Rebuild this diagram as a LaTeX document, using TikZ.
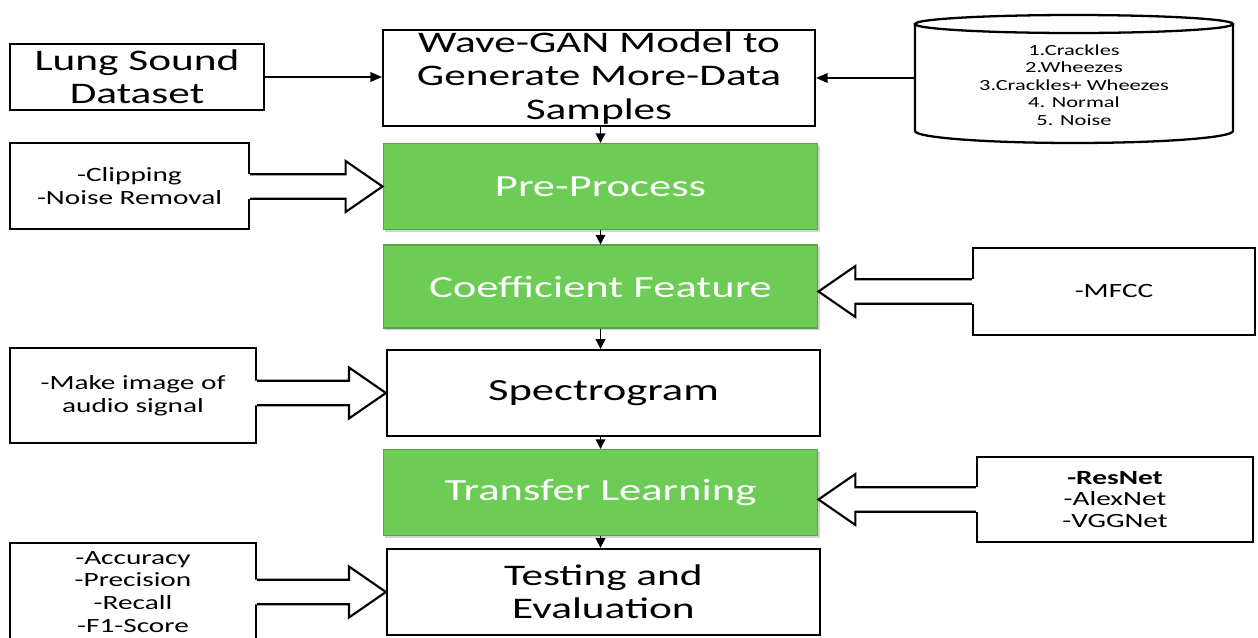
\documentclass[tikz,border=0pt]{standalone}
\usepackage{fontspec}
\setmainfont{Carlito}[FakeStretch=1.45]
\usetikzlibrary{arrows.meta, calc, shadows}
\definecolor{stagegreen}{RGB}{109,204,85}
\definecolor{stageline}{RGB}{88,165,68}

% hollow block arrow from a box edge (#1) to a tip point (#2)
\newcommand{\fatarrow}[2]{%
  \fill[white] let \p1=(#1), \p2=(#2), \n1={ifthenelse(\x2>\x1,1,-1)} in
    (\x1-\n1*1.2pt, \y2+7pt) -- (\x2-\n1*21pt, \y2+7pt) -- (\x2-\n1*21pt, \y2+14.5pt)
    -- (\x2,\y2) -- (\x2-\n1*21pt, \y2-14.5pt) -- (\x2-\n1*21pt, \y2-7pt)
    -- (\x1-\n1*1.2pt, \y2-7pt) -- cycle;
  \draw[line width=1.2pt] let \p1=(#1), \p2=(#2), \n1={ifthenelse(\x2>\x1,1,-1)} in
    (\x1, \y2+7pt) -- (\x2-\n1*21pt, \y2+7pt) -- (\x2-\n1*21pt, \y2+14.5pt)
    -- (\x2,\y2) -- (\x2-\n1*21pt, \y2-14.5pt) -- (\x2-\n1*21pt, \y2-7pt)
    -- (\x1, \y2-7pt);
}

\begin{document}
\begin{tikzpicture}[x=0.02cm, y=-0.02cm,
    box/.style={draw, line width=1.3pt, align=center, inner sep=0pt},
    stage/.style={box, minimum width=8.7cm, minimum height=1.72cm, font=\fontsize{17.5}{19}\selectfont},
    greenstage/.style={stage, draw=stageline, line width=0.6pt, fill=stagegreen, text=white,
        drop shadow={shadow xshift=1.3pt, shadow yshift=-1.3pt, opacity=0.35}},
    side/.style={box, font=\fontsize{11.5}{13}\selectfont},
    flowarrow/.style={-{Triangle[width=5.5pt,length=5.5pt]}, line width=0.8pt},
    thinarrow/.style={-{Triangle[width=5.5pt,length=6.5pt]}, line width=0.7pt}]
    \useasboundingbox (0,0) rectangle (1258,638);

    \node[box, minimum width=5.08cm, minimum height=1.32cm, font=\fontsize{17}{19}\selectfont] at (137,77) (lung) {Lung Sound\\Dataset};
    \node[box, minimum width=8.64cm, minimum height=1.92cm, font=\fontsize{17}{19.3}\selectfont] at (599,78) (wave) {Wave-GAN Model to\\Generate More-Data\\Samples};
    \node[align=center, font=\fontsize{8.8}{10}\selectfont] at (1074,85) (db) {1.Crackles\\2.Wheezes\\3.Crackles+ Wheezes\\4. Normal\\5. Noise};
    \draw[line width=1.3pt] ([yshift=1.22cm]db.center) ellipse [x radius=3.18cm, y radius=0.18cm];
    \draw[line width=1.3pt] ([xshift=-3.18cm, yshift=1.22cm]db.center) -- ([xshift=-3.18cm, yshift=-0.92cm]db.center)
        arc[start angle=180, end angle=360, x radius=3.18cm, y radius=0.24cm] -- ([xshift=3.18cm, yshift=1.22cm]db.center);
    \coordinate (dbleft) at ([xshift=-3.18cm, yshift=0.14cm]db.center);

    \node[greenstage] at (600.5,186.5) (pre) {Pre-Process};
    \node[greenstage, minimum height=1.66cm] at (600.5,286.5) (coef) {Coefficient Feature};
    \node[stage, minimum width=8.66cm] at (603.5,393) (spec) {Spectrogram};
    \node[greenstage] at (600.5,492.5) (trans) {Transfer Learning};
    \node[stage, minimum width=8.66cm, font=\fontsize{17}{19}\selectfont] at (603.5,592) (test) {Testing and\\Evaluation};

    \node[side, minimum width=4.78cm, minimum height=1.72cm] at (129.5,186) (clip) {-Clipping\\-Noise Removal};
    \node[side, minimum width=5.64cm, minimum height=1.74cm] at (1114,291.5) (mfcc) {-MFCC};
    \node[side, minimum width=4.92cm, minimum height=1.9cm] at (133,395.5) (img) {-Make image of\\audio signal};
    \node[side, minimum width=5.52cm, minimum height=1.7cm, font=\fontsize{11.5}{12.5}\selectfont] at (1115,499.5) (res) {\textbf{-ResNet}\\-AlexNet\\-VGGNet};
    \node[side, minimum width=4.92cm, minimum height=1.96cm] at (133,592) (acc) {-Accuracy\\-Precision\\-Recall\\-F1-Score};

    \draw[thinarrow] (lung.east) -- (lung.east -| wave.west);
    \draw[thinarrow] (dbleft) -- (dbleft -| wave.east);
    \foreach \a/\b in {wave/pre, pre/coef, coef/spec, spec/trans, trans/test}
        \draw[flowarrow] (\a.south -| pre.south) -- (\b.north -| pre.north);

    \fatarrow{clip.east}{pre.west}
    \fatarrow{mfcc.west}{coef.east |- mfcc.west}
    \fatarrow{img.east}{spec.west}
    \fatarrow{res.west}{trans.east |- res.west}
    \fatarrow{acc.east}{test.west}
\end{tikzpicture}
\end{document}
